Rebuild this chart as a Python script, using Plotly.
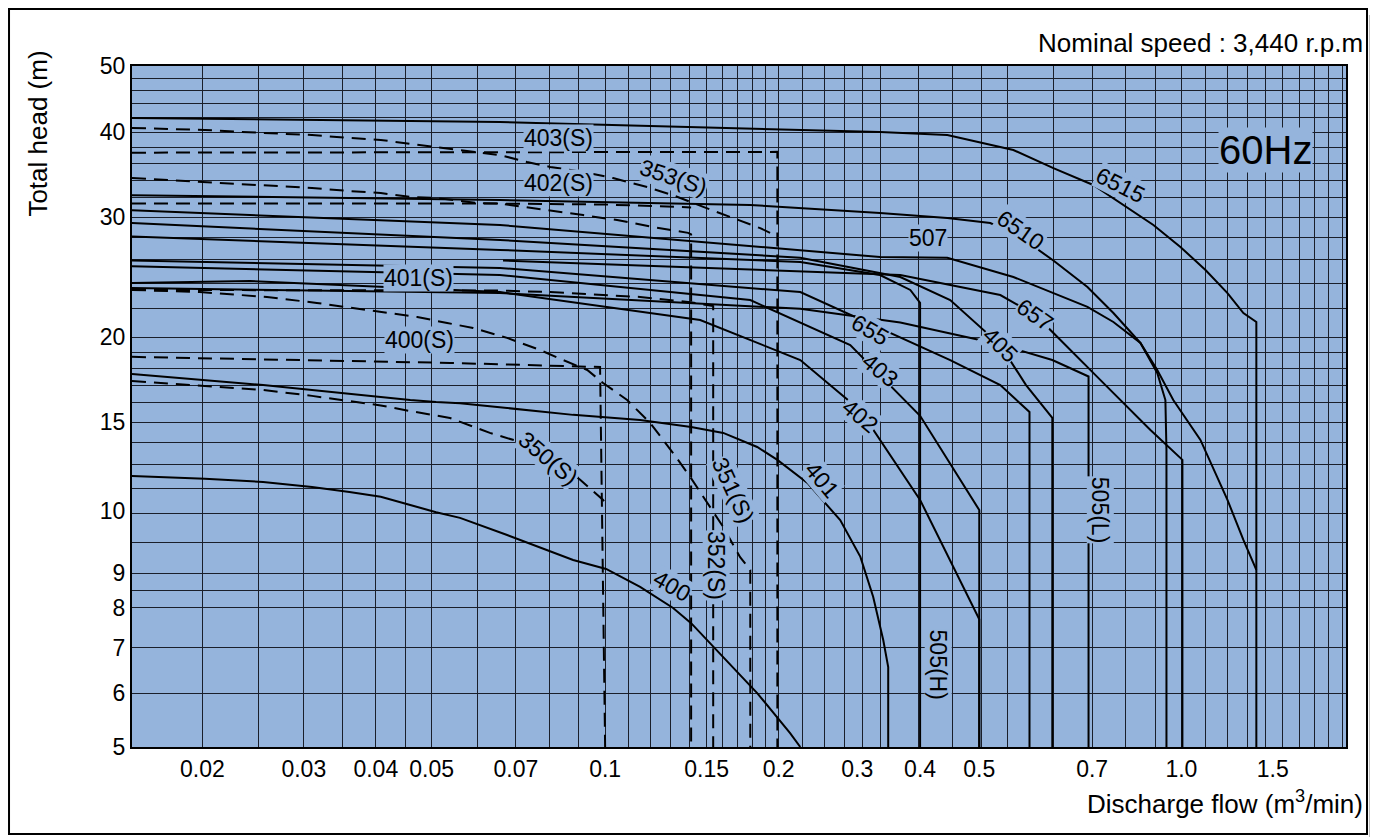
import math
import plotly.graph_objects as go

# ---------------- data: flow (m3/min) / total head (m) ----------------
# solid curves
q_400 = [0.0151, 0.0202, 0.0255, 0.031, 0.036, 0.0408, 0.0459, 0.0509, 0.056, 0.0676, 0.088, 0.1004, 0.115, 0.1312, 0.141, 0.1603, 0.1836, 0.2094, 0.2181]
h_400 = [12.5, 12.38, 12.25, 12.04, 11.84, 11.65, 11.33, 11.06, 10.85, 10.24, 9.41, 9.13, 8.59, 8.0, 7.6, 6.78, 6.0, 5.24, 5.0]

q_401 = [0.0151, 0.0202, 0.0255, 0.031, 0.036, 0.0408, 0.0459, 0.0509, 0.056, 0.0676, 0.088, 0.115, 0.141, 0.1603, 0.1836, 0.199, 0.2244, 0.2558, 0.2773, 0.2918, 0.3038, 0.3099, 0.3099]
h_401 = [17.65, 17.29, 17.0, 16.72, 16.5, 16.33, 16.16, 16.05, 15.98, 15.73, 15.37, 15.11, 14.75, 14.46, 13.79, 13.2, 12.21, 10.77, 9.51, 8.31, 7.18, 6.55, 5.0]

q_402 = [0.0151, 0.0242, 0.0657, 0.1462, 0.2181, 0.2773, 0.352, 0.397, 0.4459, 0.4459]
h_402 = [24.0, 24.17, 23.28, 21.18, 18.5, 15.6, 11.53, 9.41, 7.7, 5.0]

q_403 = [0.0151, 0.0657, 0.1786, 0.2663, 0.352, 0.413, 0.4459, 0.4459]
h_403 = [25.4, 24.66, 22.66, 19.46, 15.32, 12.34, 11.14, 5.0]

q_405 = [0.0151, 0.0657, 0.2181, 0.3252, 0.397, 0.485, 0.5375, 0.597, 0.597]
h_405 = [29.4, 27.77, 26.15, 24.5, 22.66, 19.46, 17.0, 15.21, 5.0]

q_505h = [0.0151, 0.0657, 0.2181, 0.2999, 0.3385, 0.352, 0.352]
h_505h = [28.1, 26.85, 25.77, 24.66, 23.45, 22.44, 5.0]

q_505l = [0.0151, 0.0657, 0.2181, 0.3252, 0.485, 0.597, 0.69, 0.69]
h_505l = [23.6, 23.2, 22.0, 21.0, 19.5, 18.5, 17.5, 5.0]

q_507 = [0.0151, 0.0657, 0.2999, 0.3924, 0.511, 0.5995, 0.687, 0.762, 0.849, 0.908, 0.938, 0.942, 0.942]
h_507 = [30.7, 29.21, 26.21, 26.15, 24.5, 23.2, 22.14, 21.04, 19.6, 17.71, 16.16, 13.65, 5.0]

q_655 = [0.0151, 0.0657, 0.2181, 0.3252, 0.397, 0.485, 0.545, 0.545]
h_655 = [25.9, 25.26, 23.28, 19.94, 18.5, 17.0, 15.52, 5.0]

q_657 = [0.0665, 0.1462, 0.3252, 0.485, 0.558, 0.723, 0.8836, 1.004, 1.004]
h_657 = [25.9, 25.26, 24.66, 23.05, 21.55, 17.3, 14.6, 13.2, 5.0]

q_6510 = [0.0151, 0.0657, 0.1785, 0.2999, 0.3924, 0.466, 0.5254, 0.5995, 0.687, 0.762, 0.849, 0.908, 0.968, 1.079, 1.202, 1.281, 1.349]
h_6510 = [32.3, 31.78, 31.26, 30.42, 29.9, 29.4, 28.05, 25.9, 23.68, 21.69, 19.6, 17.89, 16.16, 14.12, 11.53, 10.07, 9.1]

q_6515 = [0.0151, 0.0657, 0.2999, 0.3924, 0.511, 0.5995, 0.703, 0.7931, 0.894, 0.996, 1.101, 1.202, 1.281, 1.349, 1.349]
h_6515 = [41.94, 41.38, 40.0, 39.6, 37.64, 35.4, 33.44, 31.26, 29.21, 27.12, 25.08, 23.2, 21.69, 21.04, 5.0]

# dashed (S) curves
q_350s = [0.0151, 0.0202, 0.0255, 0.031, 0.036, 0.0408, 0.0459, 0.0509, 0.0538, 0.0631, 0.0721, 0.0826, 0.0905, 0.0992, 0.1004]
h_350s = [17.23, 16.95, 16.72, 16.39, 16.11, 15.87, 15.57, 15.31, 15.21, 14.46, 13.98, 13.11, 12.34, 11.53, 11.33]

q_351s = [0.0151, 0.0198, 0.0259, 0.0316, 0.0386, 0.0472, 0.0532, 0.059, 0.0676, 0.0771, 0.0846, 0.0931, 0.0992, 0.1092, 0.1197, 0.1312, 0.1405, 0.148, 0.1603, 0.1715, 0.1786, 0.1786]
h_351s = [23.45, 23.28, 22.9, 22.44, 21.91, 21.4, 20.97, 20.62, 19.94, 19.14, 18.5, 17.89, 17.12, 16.16, 14.96, 13.51, 12.46, 11.65, 10.52, 9.5, 9.1, 5.0]

q_352s = [0.0151, 0.0202, 0.0255, 0.031, 0.036, 0.0408, 0.0461, 0.0509, 0.0599, 0.0657, 0.0703, 0.0803, 0.0916, 0.1049, 0.1211, 0.1393, 0.141, 0.141]
h_352s = [34.23, 33.8, 33.44, 33.1, 32.76, 32.54, 32.1, 32.0, 31.46, 31.4, 31.15, 30.7, 30.2, 29.7, 29.01, 28.44, 28.3, 5.0]

q_353s = [0.0151, 0.0202, 0.0255, 0.031, 0.036, 0.0408, 0.0459, 0.0509, 0.0538, 0.0657, 0.0732, 0.0803, 0.0916, 0.1032, 0.1183, 0.1312, 0.148, 0.1648, 0.1858, 0.1933]
h_353s = [40.55, 40.27, 39.87, 39.6, 39.2, 38.94, 38.42, 38.0, 37.76, 37.0, 36.14, 35.54, 34.95, 34.23, 33.2, 32.3, 31.05, 30.0, 28.9, 28.44]

q_400s = [0.0151, 0.0538, 0.098, 0.1]
h_400s = [18.7, 18.32, 18.07, 5.0]

q_401s = [0.0151, 0.0657, 0.0803, 0.115, 0.1405, 0.1503, 0.154, 0.154]
h_401s = [23.45, 23.4, 23.28, 22.9, 22.5, 22.3, 22.2, 5.0]

q_402s = [0.0151, 0.0657, 0.1, 0.13, 0.141]
h_402s = [31.4, 31.4, 31.3, 31.1, 31.0]

q_403s = [0.0151, 0.1, 0.199, 0.199]
h_403s = [37.3, 37.35, 37.4, 5.0]

# curve labels: text, flow, head, angle
lbl_text = ["403(S)", "402(S)", "401(S)", "400(S)", "353(S)", "350(S)", "351(S)", "352(S)",
            "6515", "6510", "507", "657", "405", "655", "403", "402", "401", "400", "505(H)", "505(L)"]
lbl_q = [0.0829, 0.0829, 0.0474, 0.0477, 0.1312, 0.0796, 0.1668, 0.1558,
         0.783, 0.5254, 0.3638, 0.558, 0.485, 0.2884, 0.2999, 0.2773, 0.2381, 0.1307, 0.3786, 0.723]
lbl_h = [39.2, 33.67, 24.41, 19.8, 34.36, 13.29, 11.93, 9.25,
         33.44, 28.72, 27.95, 21.55, 19.46, 20.48, 17.89, 15.32, 12.34, 8.62, 6.6, 11.14]
lbl_angle = [0, 0, 0, 0, 18, 40, 65, 90, 27, 35, 0, 35, 45, 30, 40, 40, 50, 30, 90, 90]

# axes
x_tick_vals = [0.02, 0.03, 0.04, 0.05, 0.07, 0.1, 0.15, 0.2, 0.2738, 0.352, 0.4459, 0.7, 1.0, 1.44]
x_tick_text = ["0.02", "0.03", "0.04", "0.05", "0.07", "0.1", "0.15", "0.2", "0.3", "0.4", "0.5", "0.7", "1.0", "1.5"]
x_grid = [0.02, 0.025, 0.03, 0.035, 0.04, 0.045, 0.05, 0.06, 0.07, 0.08, 0.09, 0.1, 0.11, 0.12, 0.13, 0.14,
          0.15, 0.16, 0.17, 0.18, 0.19, 0.2, 0.22, 0.24, 0.26, 0.28, 0.3, 0.35, 0.4, 0.45, 0.5, 0.6, 0.7,
          0.8, 0.9, 1.0, 1.1, 1.2, 1.3, 1.4, 1.5, 1.6, 1.7, 1.8, 1.9]
y_tick_vals = [5, 6, 7, 8, 9, 11.1, 15, 20, 30, 40, 50]
y_tick_text = ["5", "6", "7", "8", "9", "10", "15", "20", "30", "40", "50"]
y_grid = [6, 7, 8, 8.5, 9, 10, 11, 12, 13, 14, 15, 16, 17, 18, 19, 20, 22, 24, 26, 28, 30, 32, 34, 36,
          38, 40, 42, 44, 46, 48]

BG = "#95b4dc"
FONT = "Liberation Sans, Arial, sans-serif"

fig = go.Figure()

solid = [(q_400, h_400), (q_401, h_401), (q_402, h_402), (q_403, h_403), (q_405, h_405),
         (q_505h, h_505h), (q_505l, h_505l), (q_507, h_507), (q_655, h_655), (q_657, h_657),
         (q_6510, h_6510), (q_6515, h_6515)]
dashed = [(q_350s, h_350s), (q_351s, h_351s), (q_352s, h_352s), (q_353s, h_353s),
          (q_400s, h_400s), (q_401s, h_401s), (q_402s, h_402s), (q_403s, h_403s)]

for q, h in solid:
    fig.add_trace(go.Scatter(x=q, y=h, mode="lines", line=dict(color="black", width=2),
                             hoverinfo="skip", showlegend=False))
for q, h in dashed:
    fig.add_trace(go.Scatter(x=q, y=h, mode="lines", line=dict(color="black", width=2, dash="14px,8px"),
                             hoverinfo="skip", showlegend=False))

# annotations on log axes take log10 positions
for t, q, h, a in zip(lbl_text, lbl_q, lbl_h, lbl_angle):
    fig.add_annotation(x=math.log10(q), y=math.log10(h), text=t, textangle=a, showarrow=False,
                       bgcolor=BG, font=dict(family=FONT, size=23, color="black"), borderpad=0)

fig.add_annotation(x=math.log10(1.399), y=math.log10(37.64), text="60Hz", showarrow=False, bgcolor=BG,
                   font=dict(family=FONT, size=40, color="black"), borderpad=0)

# page texts
fig.add_annotation(xref="paper", yref="paper", x=1.0157, y=1.0345, xanchor="right", yanchor="middle",
                   text="Nominal speed : 3,440 r.p.m", showarrow=False,
                   font=dict(family=FONT, size=26, color="black"))
fig.add_annotation(xref="paper", yref="paper", x=1.0157, y=-0.082, xanchor="right", yanchor="middle",
                   text="Discharge flow (m<sup>3</sup>/min)", showarrow=False,
                   font=dict(family=FONT, size=26, color="black"))
fig.add_annotation(xref="paper", yref="paper", x=-0.077, y=0.9, xanchor="center", yanchor="middle",
                   text="Total head (m)", textangle=-90, showarrow=False,
                   font=dict(family=FONT, size=26, color="black"))

# outer frame with a soft shadow on the right
fig.add_shape(type="rect", xref="paper", yref="paper", x0=1.0189, x1=1.0247, y0=-0.14, y1=1.075,
              line=dict(width=0), fillcolor="#bdbdbd")
fig.add_shape(type="rect", xref="paper", yref="paper", x0=-0.1013, x1=1.0173, y0=-0.1278, y1=1.0837,
              line=dict(color="black", width=2), fillcolor="rgba(0,0,0,0)")

fig.update_xaxes(type="log", range=[-1.821, 0.2856], tickvals=x_tick_vals, ticktext=x_tick_text,
                 showgrid=False, ticks="", showline=True, linecolor="black", linewidth=2, mirror=True,
                 tickfont=dict(family=FONT, size=23, color="black"), zeroline=False,
                 minor=dict(tickmode="array", tickvals=x_grid, showgrid=True, gridcolor="#1a1f2b",
                            gridwidth=1, ticks=""))
fig.update_yaxes(type="log", range=[0.69897, 1.69897], tickvals=y_tick_vals, ticktext=y_tick_text,
                 showgrid=False, ticks="", showline=True, linecolor="black", linewidth=2, mirror=True,
                 tickfont=dict(family=FONT, size=23, color="black"), zeroline=False,
                 minor=dict(tickmode="array", tickvals=y_grid, showgrid=True, gridcolor="#1a1f2b",
                            gridwidth=1, ticks=""))

# the page adds an 8px body margin, so the figure is 8px smaller than the window
fig.update_layout(width=1370, height=829, margin=dict(l=124, r=32, t=58, b=90),
                  paper_bgcolor="white", plot_bgcolor=BG, showlegend=False)

fig.write_html("out.html")
